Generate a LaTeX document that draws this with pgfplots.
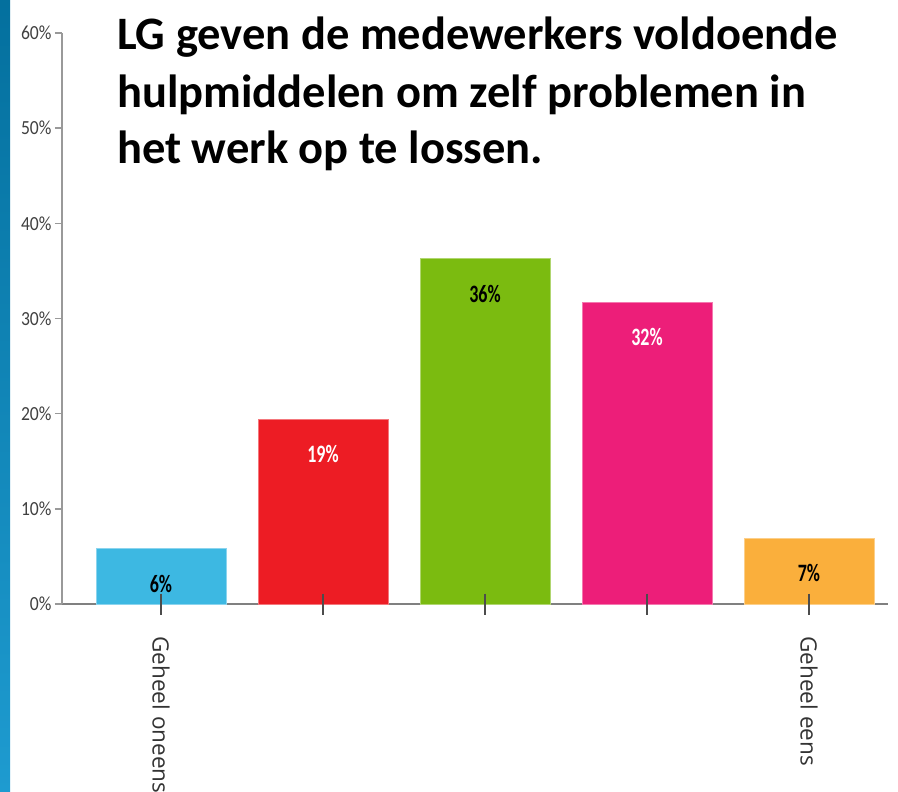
\documentclass[border=0pt]{standalone}
\usepackage{pgfplots}
\pgfplotsset{compat=1.18}
\usepackage{fontspec}
\setmainfont{Carlito}
\newfontfamily\tickfont[FakeStretch=0.88]{Carlito}
\newfontfamily\barfont[FakeStretch=0.72]{Carlito}
\newfontfamily\catfont{Open Sans}
\definecolor{cblue}{HTML}{3DB8E2}
\definecolor{cred}{HTML}{ED1C24}
\definecolor{cgreen}{HTML}{7BBB10}
\definecolor{cpink}{HTML}{ED1E79}
\definecolor{corange}{HTML}{FAAF3C}
\definecolor{stripTop}{HTML}{04709E}
\definecolor{stripBot}{HTML}{1E9BD0}
\begin{document}
\begin{tikzpicture}
\useasboundingbox (0,-792pt) rectangle (898pt,0);
\shade[top color=stripTop, bottom color=stripBot] (0,-792pt) rectangle (10pt,0);
\node[anchor=base west, font=\bfseries\fontsize{46.5}{46.5}\selectfont, inner sep=0] at (117pt,-50pt) {LG geven de medewerkers voldoende};
\node[anchor=base west, font=\bfseries\fontsize{46.5}{46.5}\selectfont, inner sep=0] at (117pt,-107pt) {hulpmiddelen om zelf problemen in};
\node[anchor=base west, font=\bfseries\fontsize{46.5}{46.5}\selectfont, inner sep=0] at (117pt,-164pt) {het werk op te lossen.};
\begin{axis}[
  at={(62pt,-604pt)}, anchor=south west,
  scale only axis, width=826pt, height=571pt,
  xmin=-0.611, xmax=4.488, ymin=0, ymax=60,
  axis x line*=bottom, axis y line*=left,
  every outer x axis line/.append style={-},
  every outer y axis line/.append style={-},
  x axis line style={draw=black!50, line width=2.6pt},
  y axis line style={draw=black!40, line width=2pt},
  ytick={0,10,...,60},
  yticklabel={\pgfmathprintnumber{\tick}\%},
  /pgf/number format/assume math mode=true,
  yticklabel style={font=\tickfont\fontsize{20}{20}\selectfont, text=black!75},
  major tick length=7pt, ytick align=outside,
  ytick style={draw=black!40, line width=1.5pt},
  xtick={0,1,2,3,4},
  xticklabels={Geheel oneens,,,,Geheel eens},
  xtick style={draw=none},
  xticklabel style={rotate=-90, anchor=west, font=\catfont\fontsize{22.5}{22.5}\selectfont, text=black!80},
  xticklabel shift=29pt,
  clip=false,
  point meta=explicit symbolic,
  every node near coord/.append style={anchor=center, yshift=-35pt, font=\barfont\bfseries\fontsize{25}{25}\selectfont},
]
\addplot[ybar, bar shift=0pt, bar width=130pt, fill=cblue, draw=cblue!60!white, line width=0.8pt, nodes near coords, every node near coord/.append style={text=black}] coordinates {(0,5.8) [6\%]};
\addplot[ybar, bar shift=0pt, bar width=130pt, fill=cred, draw=cred!60!white, line width=0.8pt, nodes near coords, every node near coord/.append style={text=white}] coordinates {(1,19.4) [19\%]};
\addplot[ybar, bar shift=0pt, bar width=130pt, fill=cgreen, draw=cgreen!60!white, line width=0.8pt, nodes near coords, every node near coord/.append style={text=black}] coordinates {(2,36.3) [36\%]};
\addplot[ybar, bar shift=0pt, bar width=130pt, fill=cpink, draw=cpink!60!white, line width=0.8pt, nodes near coords, every node near coord/.append style={text=white}] coordinates {(3,31.7) [32\%]};
\addplot[ybar, bar shift=0pt, bar width=130pt, fill=corange, draw=corange!60!white, line width=0.8pt, nodes near coords, every node near coord/.append style={text=black}] coordinates {(4,6.9) [7\%]};
\addplot[only marks, mark=|, mark size=10.5pt, mark options={draw=black!70, line width=1.2pt}, point meta=none] coordinates {(0,0) (1,0) (2,0) (3,0) (4,0)};
\end{axis}
\end{tikzpicture}
\end{document}
